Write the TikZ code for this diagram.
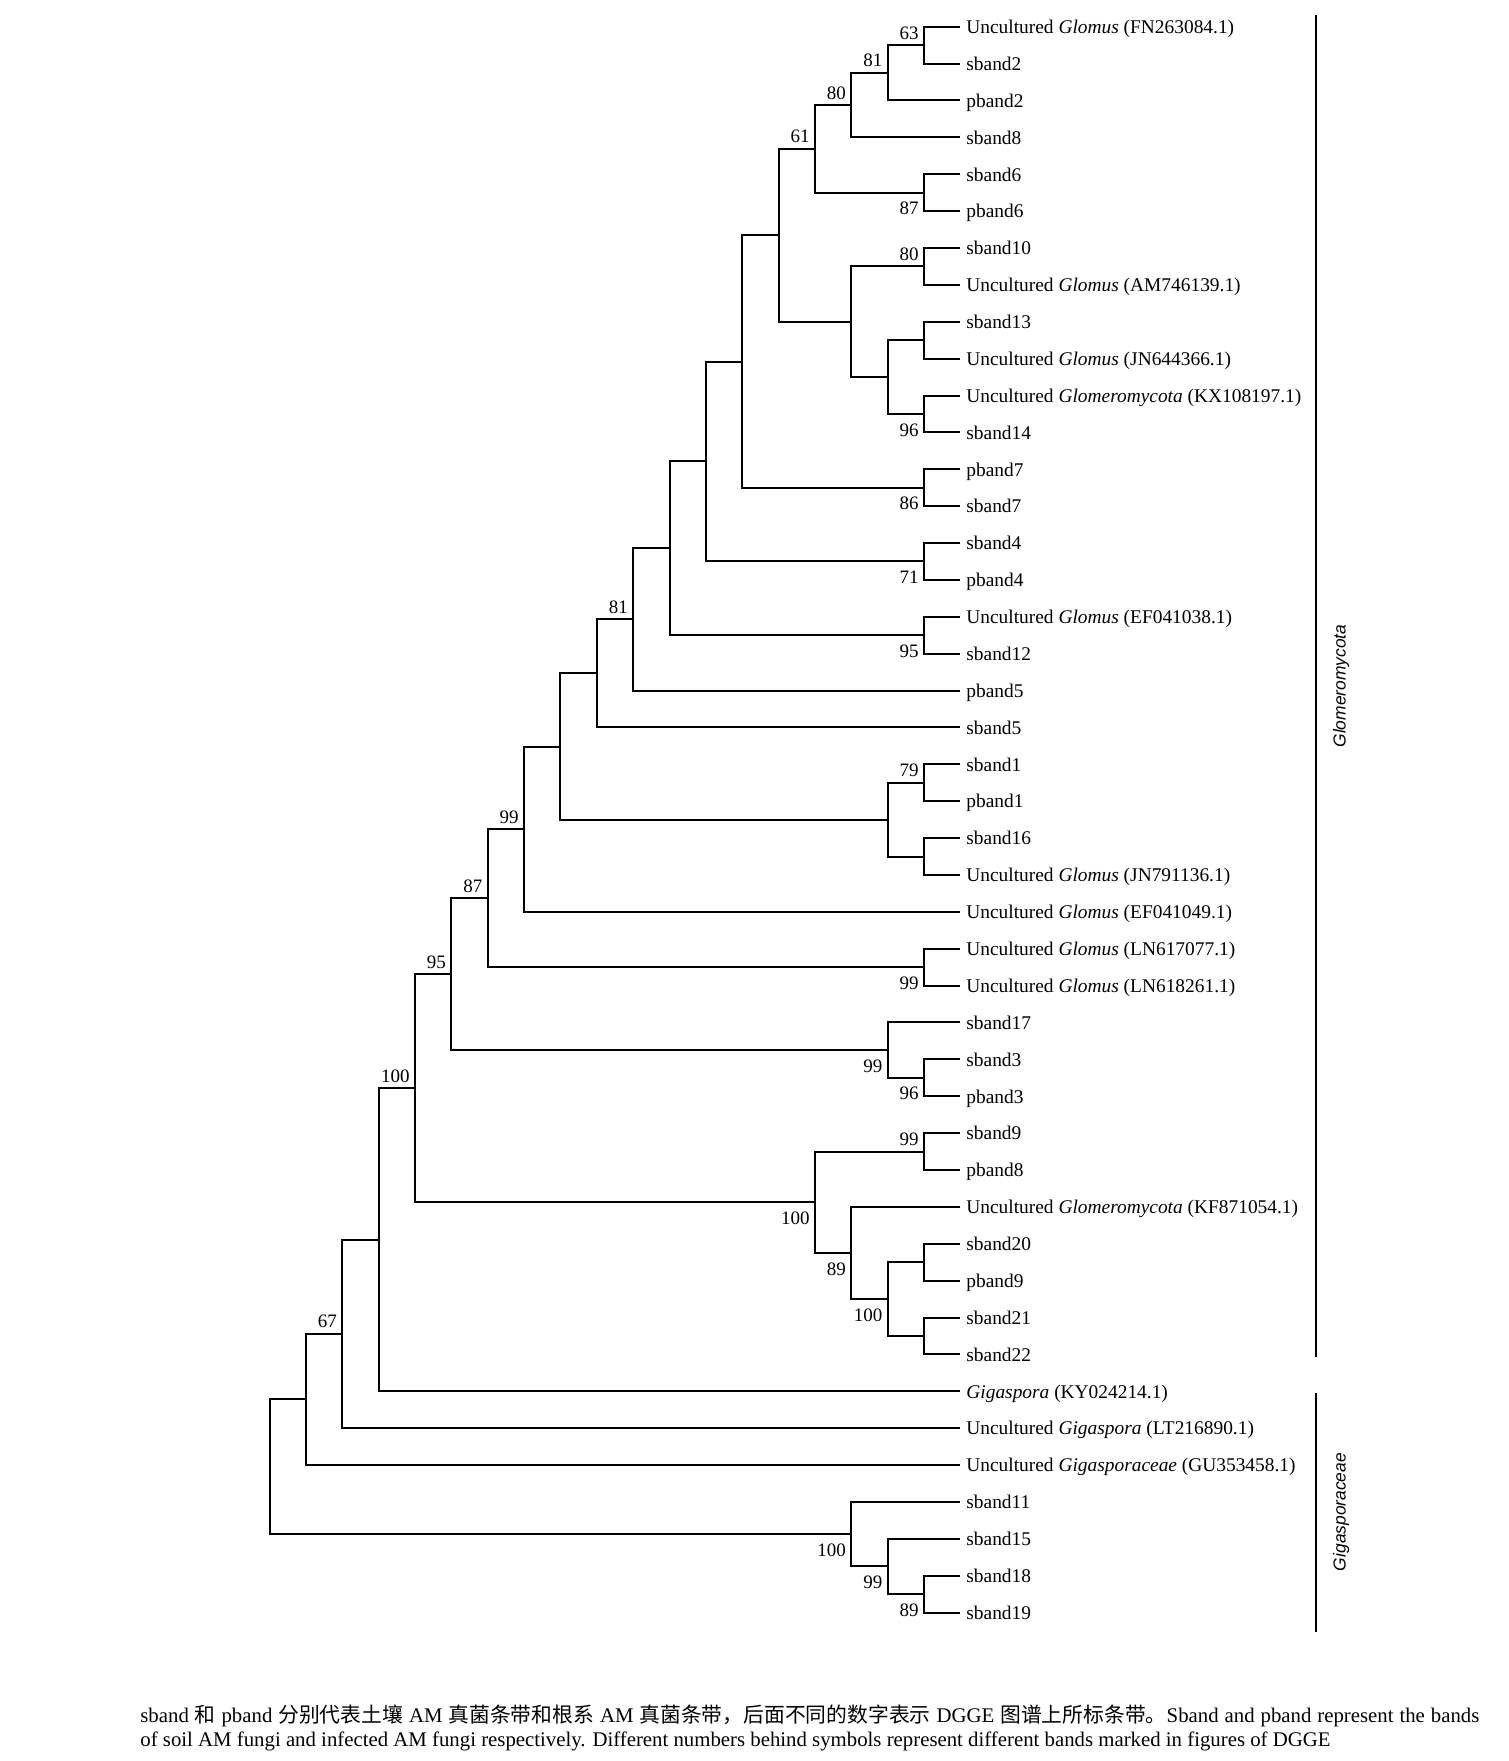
\documentclass[tikz,border=0pt]{standalone}
\usepackage{fontspec}
\setmainfont{Liberation Serif}
\setsansfont{Liberation Sans}
\newfontfamily\cjk{Noto Sans CJK SC}
\usetikzlibrary{calc}

% leaf rows and tree levels, 1 unit = 1 px
\newcommand{\ly}[1]{26.7+36.88*(#1-1)}
\newcommand{\lx}[1]{960.4-36.36*(#1)}
% clade: name, level, upper child, lower child
\newcommand{\clade}[4]{%
  \path ($(#3)!0.5!(#4)$) coordinate (#1m);
  \coordinate (#1x) at ({\lx{#2}},0);
  \coordinate (#1) at (#1m -| #1x);
  \draw[branch] (#3) -| (#1) |- (#4);}

\begin{document}
\begin{tikzpicture}[x=0.5pt, y=-0.5pt]
 \tikzset{branch/.style={line width=1pt},
   leaf/.style={anchor=west, inner xsep=2.8pt, inner ysep=0pt, text height=0.68em, text depth=0pt, font=\fontsize{9.7}{11}\selectfont},
   boot/.style={inner sep=2pt, xshift=-0.5pt, font=\fontsize{9.5}{11}\selectfont},
   bsup/.style={boot, anchor=south east, yshift=0.7pt},
   bsdown/.style={boot, anchor=north east, yshift=-2.6pt},
   group/.style={rotate=90, font=\sffamily\itshape\fontsize{8.7}{10}\selectfont},
   bar/.style={line width=1pt}}
 \useasboundingbox (0,0) rectangle (1509,1761);
 % leaves
 \foreach \i/\nm/\txt in {
   1/fn263084/{Uncultured \textit{Glomus} (FN263084.1)}, 2/sband2/sband2, 3/pband2/pband2,
   4/sband8/sband8, 5/sband6/sband6, 6/pband6/pband6, 7/sband10/sband10,
   8/am746139/{Uncultured \textit{Glomus} (AM746139.1)}, 9/sband13/sband13,
   10/jn644366/{Uncultured \textit{Glomus} (JN644366.1)},
   11/kx108197/{Uncultured \textit{Glomeromycota} (KX108197.1)}, 12/sband14/sband14,
   13/pband7/pband7, 14/sband7/sband7, 15/sband4/sband4, 16/pband4/pband4,
   17/ef041038/{Uncultured \textit{Glomus} (EF041038.1)}, 18/sband12/sband12,
   19/pband5/pband5, 20/sband5/sband5, 21/sband1/sband1, 22/pband1/pband1,
   23/sband16/sband16, 24/jn791136/{Uncultured \textit{Glomus} (JN791136.1)},
   25/ef041049/{Uncultured \textit{Glomus} (EF041049.1)},
   26/ln617077/{Uncultured \textit{Glomus} (LN617077.1)},
   27/ln618261/{Uncultured \textit{Glomus} (LN618261.1)},
   28/sband17/sband17, 29/sband3/sband3, 30/pband3/pband3, 31/sband9/sband9,
   32/pband8/pband8, 33/kf871054/{Uncultured \textit{Glomeromycota} (KF871054.1)},
   34/sband20/sband20, 35/pband9/pband9, 36/sband21/sband21, 37/sband22/sband22,
   38/ky024214/{\textit{Gigaspora} (KY024214.1)},
   39/lt216890/{Uncultured \textit{Gigaspora} (LT216890.1)},
   40/gu353458/{Uncultured \textit{Gigasporaceae} (GU353458.1)},
   41/sband11/sband11, 42/sband15/sband15, 43/sband18/sband18, 44/sband19/sband19}
   \node[leaf] (\nm) at ({\lx{0}},{\ly{\i}}) {\txt};
 % clades
 \clade{n63}{1}{fn263084}{sband2}
 \clade{n81}{2}{n63}{pband2}
 \clade{n80}{3}{n81}{sband8}
 \clade{n87}{1}{sband6}{pband6}
 \clade{n61}{4}{n80}{n87}
 \clade{n80b}{1}{sband10}{am746139}
 \clade{nA}{1}{sband13}{jn644366}
 \clade{n96}{1}{kx108197}{sband14}
 \clade{nB}{2}{nA}{n96}
 \clade{nC}{3}{n80b}{nB}
 \clade{nD}{5}{n61}{nC}
 \clade{n86}{1}{pband7}{sband7}
 \clade{nE}{6}{nD}{n86}
 \clade{n71}{1}{sband4}{pband4}
 \clade{nF}{7}{nE}{n71}
 \clade{n95}{1}{ef041038}{sband12}
 \clade{nG}{8}{nF}{n95}
 \clade{n81b}{9}{nG}{pband5}
 \clade{nH}{10}{n81b}{sband5}
 \clade{n79}{1}{sband1}{pband1}
 \clade{nI}{1}{sband16}{jn791136}
 \clade{nJ}{2}{n79}{nI}
 \clade{nK}{11}{nH}{nJ}
 \clade{n99}{12}{nK}{ef041049}
 \clade{n99b}{1}{ln617077}{ln618261}
 \clade{n87b}{13}{n99}{n99b}
 \clade{n96b}{1}{sband3}{pband3}
 \clade{n99c}{2}{sband17}{n96b}
 \clade{n95b}{14}{n87b}{n99c}
 \clade{n99d}{1}{sband9}{pband8}
 \clade{nL}{1}{sband20}{pband9}
 \clade{nM}{1}{sband21}{sband22}
 \clade{n100c}{2}{nL}{nM}
 \clade{n89}{3}{kf871054}{n100c}
 \clade{n100b}{4}{n99d}{n89}
 \clade{n100}{15}{n95b}{n100b}
 \clade{nN}{16}{n100}{ky024214}
 \clade{n67}{17}{nN}{lt216890}
 \clade{nO}{18}{n67}{gu353458}
 \clade{n89b}{1}{sband18}{sband19}
 \clade{n99e}{2}{sband15}{n89b}
 \clade{n100d}{3}{sband11}{n99e}
 \clade{root}{19}{nO}{n100d}
 % bootstrap values
 \node[bsup] (b63) at (n63) {63};
 \node[bsup] (b81) at (n81) {81};
 \node[bsup] (b80) at (n80) {80};
 \node[bsdown] (b87) at (n87) {87};
 \node[bsup] (b61) at (n61) {61};
 \node[bsup] (b80b) at (n80b) {80};
 \node[bsdown] (b96) at (n96) {96};
 \node[bsdown] (b86) at (n86) {86};
 \node[bsdown] (b71) at (n71) {71};
 \node[bsdown] (b95) at (n95) {95};
 \node[bsup] (b81b) at (n81b) {81};
 \node[bsup] (b79) at (n79) {79};
 \node[bsup] (b99) at (n99) {99};
 \node[bsdown] (b99b) at (n99b) {99};
 \node[bsup] (b87b) at (n87b) {87};
 \node[bsdown] (b96b) at (n96b) {96};
 \node[bsdown] (b99c) at (n99c) {99};
 \node[bsup] (b95b) at (n95b) {95};
 \node[bsup] (b99d) at (n99d) {99};
 \node[bsdown] (b100c) at (n100c) {100};
 \node[bsdown] (b89) at (n89) {89};
 \node[bsdown] (b100b) at (n100b) {100};
 \node[bsup] (b100) at (n100) {100};
 \node[bsup] (b67) at (n67) {67};
 \node[bsdown] (b89b) at (n89b) {89};
 \node[bsdown] (b99e) at (n99e) {99};
 \node[bsdown] (b100d) at (n100d) {100};
 % groups
 \draw[bar] (1316,15) -- (1316,1357);
 \draw[bar] (1316,1393) -- (1316,1632);
 \node[group] (glomero) at (1341,686) {Glomeromycota};
 \node[group] (gigaspo) at (1341,1512) {Gigasporaceae};
 % note
 \node[anchor=north west, inner sep=0pt, text width=669.5pt, align=justify,
   font=\fontsize{10.4}{12.3}\selectfont] (note) at (140,1704)
   {sband {\cjk 和} pband {\cjk 分别代表土壤} AM {\cjk 真菌条带和根系} AM {\cjk 真菌条带，后面不同的数字表示} DGGE {\cjk 图谱上所标条带。}Sband and pband represent the bands\linebreak
    of soil AM fungi and infected AM fungi respectively. Different numbers behind symbols represent different bands marked in figures of DGGE};
\end{tikzpicture}
\end{document}
